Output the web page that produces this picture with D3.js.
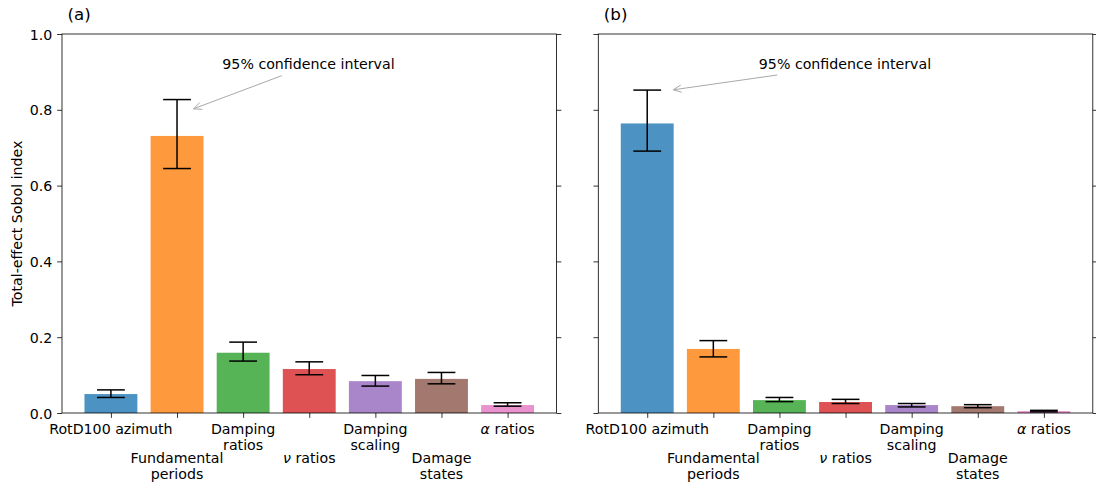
<!DOCTYPE html>
<html>
<head>
<meta charset="utf-8">
<script src="https://cdn.jsdelivr.net/npm/d3@7/dist/d3.min.js"></script>
<style>
  html, body { margin: 0; padding: 0; background: #fff; }
  svg text { font-family: "DejaVu Sans", sans-serif; fill: #000; }
</style>
</head>
<body>
<svg id="chart" width="1096" height="484"></svg>
<script>
// Sobol total-effect indices for each input parameter, two cases (a) and (b).
// Each label line is a list of [text, italic] pieces.
const categories = [
  [[["RotD100 azimuth", false]]],
  [[["Fundamental", false]], [["periods", false]]],
  [[["Damping", false]], [["ratios", false]]],
  [[["\u03bd", true], [" ratios", false]]],
  [[["Damping", false]], [["scaling", false]]],
  [[["Damage", false]], [["states", false]]],
  [[["\u03b1", true], [" ratios", false]]]
];
const colors = ["#1f77b4", "#ff7f0e", "#2ca02c", "#d62728", "#9467bd", "#8c564b", "#e377c2"];

const valuesA = [0.050, 0.731, 0.159, 0.116, 0.084, 0.090, 0.021];
const lowerA  = [0.041, 0.645, 0.137, 0.101, 0.071, 0.077, 0.018];
const upperA  = [0.061, 0.827, 0.187, 0.135, 0.099, 0.107, 0.027];

const valuesB = [0.764, 0.169, 0.034, 0.029, 0.021, 0.018, 0.005];
const lowerB  = [0.691, 0.148, 0.030, 0.025, 0.016, 0.014, 0.003];
const upperB  = [0.852, 0.191, 0.041, 0.036, 0.025, 0.022, 0.007];

const yTicks = [0, 0.2, 0.4, 0.6, 0.8, 1.0];
const panelLabels = ["(a)", "(b)"];
const yLabel = "Total-effect Sobol index";
const noteText = "95% confidence interval";

const FS = 14.2;
const FS_PANEL = 16.7;
const TICK = 4.86;
const PAD = 4.86;
const BAR_W = 0.8;
const CAP = 13.9;

const svg = d3.select("#chart");

function drawPanel(cfg) {
  const { left, right, top, bottom, values, lower, upper, label, showYLabels, note } = cfg;
  const n = values.length;
  const marg = 0.05 * (n - 1 + BAR_W);
  const x = d3.scaleLinear()
    .domain([-BAR_W / 2 - marg, n - 1 + BAR_W / 2 + marg])
    .range([left, right]);
  const y = d3.scaleLinear().domain([0, 1]).range([bottom, top]);

  const g = svg.append("g");

  // bars
  g.selectAll("rect.bar").data(values).join("rect")
    .attr("class", "bar")
    .attr("x", (d, i) => x(i - BAR_W / 2))
    .attr("width", (d, i) => x(i + BAR_W / 2) - x(i - BAR_W / 2))
    .attr("y", d => y(d))
    .attr("height", d => y(0) - y(d))
    .attr("fill", (d, i) => colors[i])
    .attr("fill-opacity", 0.8);

  // confidence-interval error bars
  const eb = g.selectAll("g.err").data(values.map((v, i) => ({ i, lo: lower[i], hi: upper[i] })))
    .join("g").attr("class", "err")
    .attr("stroke", "#000").attr("stroke-width", 1.5).attr("fill", "none");
  eb.append("line")
    .attr("x1", d => x(d.i)).attr("x2", d => x(d.i))
    .attr("y1", d => y(d.lo)).attr("y2", d => y(d.hi));
  eb.append("line")
    .attr("x1", d => x(d.i) - CAP).attr("x2", d => x(d.i) + CAP)
    .attr("y1", d => y(d.lo)).attr("y2", d => y(d.lo));
  eb.append("line")
    .attr("x1", d => x(d.i) - CAP).attr("x2", d => x(d.i) + CAP)
    .attr("y1", d => y(d.hi)).attr("y2", d => y(d.hi));

  // left y axis
  const yAxisL = d3.axisLeft(y).tickValues(yTicks).tickSize(TICK).tickPadding(PAD)
    .tickFormat(showYLabels ? d3.format(".1f") : () => "");
  const gl = g.append("g").attr("transform", `translate(${left},0)`).call(yAxisL);
  // right y axis (ticks only)
  const yAxisR = d3.axisRight(y).tickValues(yTicks).tickSize(TICK).tickFormat(() => "");
  const gr = g.append("g").attr("transform", `translate(${right},0)`).call(yAxisR);
  // bottom x axis
  const xAxis = d3.axisBottom(x).tickValues(d3.range(n)).tickSize(TICK).tickFormat(() => "");
  const gb = g.append("g").attr("transform", `translate(0,${bottom})`).call(xAxis);

  [gl, gr, gb].forEach(a => {
    a.select(".domain").remove();
    a.selectAll(".tick line").attr("stroke", "#000").attr("stroke-width", 0.8);
    a.selectAll(".tick text")
      .style("font-family", "DejaVu Sans, sans-serif")
      .style("font-size", FS + "px")
      .attr("fill", "#000")
      .attr("dy", "0.36em");
  });

  // frame
  g.append("rect")
    .attr("x", left).attr("y", top)
    .attr("width", right - left).attr("height", bottom - top)
    .attr("fill", "none").attr("stroke", "#000").attr("stroke-width", 0.8);

  // staggered category labels
  const rowBase = [433.5, 462.5];
  const lineGap = 16.2;
  categories.forEach((lines, i) => {
    lines.forEach((pieces, k) => {
      const t = g.append("text")
        .attr("x", x(i))
        .attr("y", rowBase[i % 2] + k * lineGap)
        .attr("text-anchor", "middle")
        .style("font-size", FS + "px");
      pieces.forEach(([s, it]) => {
        t.append("tspan").style("font-style", it ? "italic" : "normal").text(s);
      });
    });
  });

  // panel label
  g.append("text")
    .attr("x", left + 5.5).attr("y", 19.8)
    .style("font-size", FS_PANEL + "px")
    .text(label);

  // annotation with arrow
  g.append("text")
    .attr("x", note.tx).attr("y", note.ty)
    .attr("text-anchor", "middle")
    .style("font-size", FS + "px")
    .text(noteText);
  const ax0 = note.from[0], ay0 = note.from[1];
  const ax1 = note.to[0], ay1 = note.to[1];
  const ang = Math.atan2(ay1 - ay0, ax1 - ax0);
  const hl = 8, hw = 3.6;
  const bx = ax1 - hl * Math.cos(ang), by = ay1 - hl * Math.sin(ang);
  const px = -Math.sin(ang) * hw, py = Math.cos(ang) * hw;
  g.append("path")
    .attr("d", `M${ax0},${ay0}L${ax1},${ay1}M${bx + px},${by + py}L${ax1},${ay1}L${bx - px},${by - py}`)
    .attr("fill", "none").attr("stroke", "#a8a8a8").attr("stroke-width", 1);

  return { x, y };
}

drawPanel({
  left: 62, right: 556.5, top: 34, bottom: 413,
  values: valuesA, lower: lowerA, upper: upperA,
  label: panelLabels[0], showYLabels: true,
  note: { tx: 308.5, ty: 69, from: [281.7, 75.7], to: [193.5, 108.8] }
});

drawPanel({
  left: 598.3, right: 1092.8, top: 34, bottom: 413,
  values: valuesB, lower: lowerB, upper: upperB,
  label: panelLabels[1], showYLabels: false,
  note: { tx: 845, ty: 69, from: [777.3, 75], to: [673.3, 89.8] }
});

// shared y-axis title
svg.append("text")
  .attr("transform", "translate(22,223.5) rotate(-90)")
  .attr("text-anchor", "middle")
  .style("font-size", FS + "px")
  .text(yLabel);
</script>
</body>
</html>
